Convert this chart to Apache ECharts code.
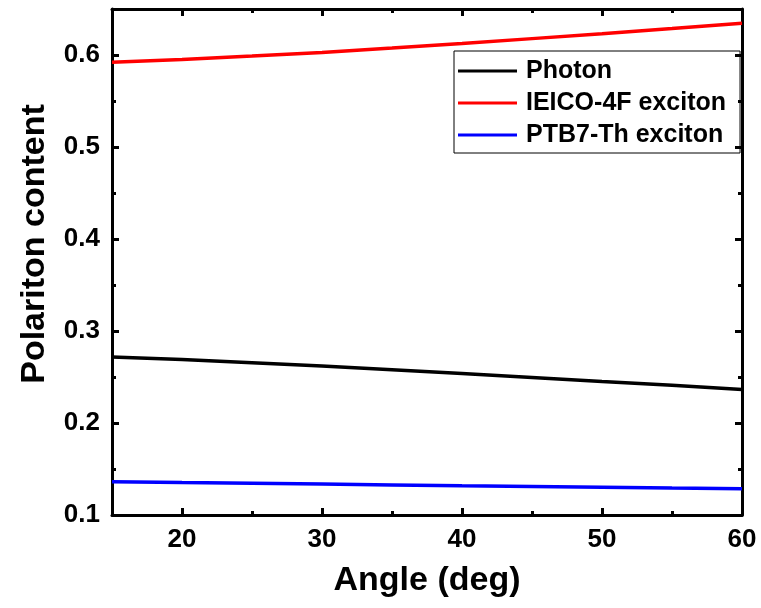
<!DOCTYPE html>
<html>
<head>
<meta charset="utf-8">
<script src="https://cdn.jsdelivr.net/npm/echarts@6/dist/echarts.min.js"></script>
<style>
html,body{margin:0;padding:0;background:#fff;}
#chart{width:761px;height:608px;}
</style>
</head>
<body>
<div id="chart"></div>
<script>
const angles = [15, 20, 25, 30, 35, 40, 45, 50, 55, 60];
const photon = [0.2717, 0.2690, 0.2655, 0.2620, 0.2578, 0.2537, 0.2495, 0.2452, 0.2410, 0.2363];
const ieico = [0.5922, 0.5952, 0.5988, 0.6028, 0.6075, 0.6125, 0.6178, 0.6232, 0.6287, 0.6344];
const ptb7 = [0.1361, 0.1352, 0.1344, 0.1336, 0.1327, 0.1318, 0.1310, 0.1302, 0.1293, 0.1285];
const seriesNames = ['Photon', 'IEICO-4F exciton', 'PTB7-Th exciton'];
const xMajor = [20, 30, 40, 50, 60];
const xMinor = [25, 35, 45, 55];
const yMajor = [0.1, 0.2, 0.3, 0.4, 0.5, 0.6];
const yMinor = [0.15, 0.25, 0.35, 0.45, 0.55];

const FONT = '"Liberation Sans", Arial, sans-serif';
const pair = a => angles.map((x, i) => [x, a[i]]);

function xAx(pos, ticks, len, showLabel, showLine, name) {
  return {
    type: 'value', min: 15, max: 60, position: pos,
    name: name || '', nameLocation: 'middle', nameGap: 49,
    nameTextStyle: {fontFamily: FONT, fontWeight: 'bold', fontSize: 34, color: '#000'},
    axisLine: {show: showLine, onZero: false, lineStyle: {color: '#000', width: 3}},
    axisTick: {show: true, inside: true, length: len, customValues: ticks, lineStyle: {color: '#000', width: 3}},
    axisLabel: {show: showLabel, customValues: ticks, margin: 12, fontFamily: FONT, fontWeight: 'bold', fontSize: 26, color: '#000'},
    splitLine: {show: false}
  };
}
function yAx(pos, ticks, len, showLabel, showLine, name) {
  return {
    type: 'value', min: 0.1, max: 0.65, position: pos,
    name: name || '', nameLocation: 'middle', nameGap: 60,
    nameTextStyle: {fontFamily: FONT, fontWeight: 'bold', fontSize: 34, color: '#000', padding: [0, 0, 0, 36]},
    axisLine: {show: showLine, onZero: false, lineStyle: {color: '#000', width: 3}},
    axisTick: {show: true, inside: true, length: len, customValues: ticks, lineStyle: {color: '#000', width: 3}},
    axisLabel: {show: showLabel, customValues: ticks, margin: 12, fontFamily: FONT, fontWeight: 'bold', fontSize: 26, color: '#000',
      formatter: v => v.toFixed(1)},
    splitLine: {show: false}
  };
}

const chart = echarts.init(document.getElementById('chart'), null, {renderer: 'canvas'});
chart.setOption({
  animation: false,
  backgroundColor: '#fff',
  grid: {left: 112, right: 19, top: 9, bottom: 93, containLabel: false},
  xAxis: [
    xAx('bottom', xMajor, 7, true, true, 'Angle (deg)'),
    xAx('bottom', xMinor, 4, false, false),
    xAx('top', xMajor, 7, false, true),
    xAx('top', xMinor, 4, false, false)
  ],
  yAxis: [
    yAx('left', yMajor, 7, true, true, 'Polariton content'),
    yAx('left', yMinor, 4, false, false),
    yAx('right', yMajor, 7, false, true),
    yAx('right', yMinor, 4, false, false)
  ],
  legend: {
    orient: 'vertical', left: 454, top: 51,
    data: seriesNames,
    icon: 'rect', itemWidth: 59, itemHeight: 3, itemGap: 2,
    borderColor: '#000', borderWidth: 1, borderRadius: 0,
    padding: [5, 14, 3, 4],
    textStyle: {fontFamily: FONT, fontWeight: 'bold', fontSize: 25, color: '#000', lineHeight: 30, padding: [0, 0, 0, 4]}
  },
  series: [
    {name: seriesNames[0], type: 'line', data: pair(photon), showSymbol: false, color: '#000000', lineStyle: {width: 3.5, color: '#000000'}},
    {name: seriesNames[1], type: 'line', data: pair(ieico), showSymbol: false, color: '#ff0000', lineStyle: {width: 3.5, color: '#ff0000'}},
    {name: seriesNames[2], type: 'line', data: pair(ptb7), showSymbol: false, color: '#0000ff', lineStyle: {width: 3.5, color: '#0000ff'}}
  ]
});
</script>
</body>
</html>
